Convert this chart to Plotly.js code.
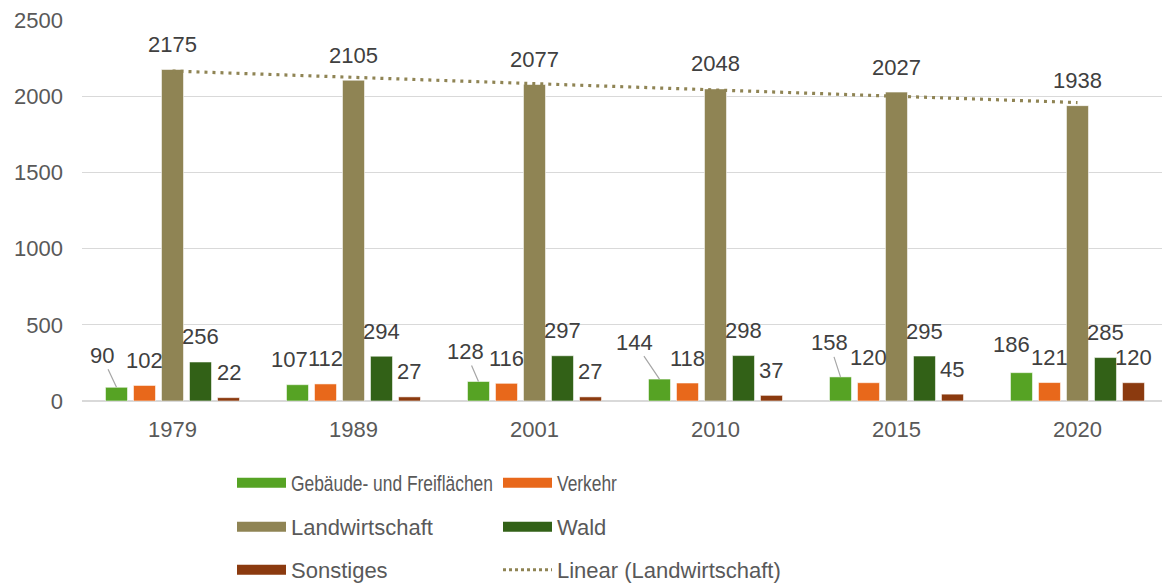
<!DOCTYPE html>
<html>
<head>
<meta charset="utf-8">
<script src="https://cdn.plot.ly/plotly-3.0.1.min.js"></script>
<style>
html,body{margin:0;padding:0;background:#fff;}
#chart{width:1162px;height:583px;}
</style>
</head>
<body>
<div id="chart"></div>
<script>
// ---- data ----
const years = ["1979", "1989", "2001", "2010", "2015", "2020"];
const gebaeude = [90, 107, 128, 144, 158, 186];
const verkehr = [102, 112, 116, 118, 120, 121];
const landwirtschaft = [2175, 2105, 2077, 2048, 2027, 1938];
const wald = [256, 294, 297, 298, 295, 285];
const sonstiges = [22, 27, 27, 37, 45, 120];
const seriesNames = ["Gebäude- und Freiflächen", "Verkehr", "Landwirtschaft", "Wald", "Sonstiges"];
const trendName = "Linear (Landwirtschaft)";

// ---- styling ----
const colors = ["#56A324", "#E8681B", "#8F8454", "#326117", "#8B3A0F"];
const seriesValues = [gebaeude, verkehr, landwirtschaft, wald, sonstiges];
const legendIds = ["legend", "legend", "legend2", "legend2", "legend3"];
const numFont = "Liberation Sans, Arial, sans-serif";
const legFont = "Liberation Sans, Arial, sans-serif";
const LEG_SIZE = 22;

const W = 1162, H = 583, ML = 82, MR = 0, MT = 20, MB = 182;
const BARGAP = 0.2265, GROUPGAP = 0.214;
const xRange = [-0.5, 5.467];
const catPx = (W - ML - MR) / (xRange[1] - xRange[0]);
const slotPx = catPx * (1 - BARGAP) / seriesValues.length;

// linear trendline (least squares over category index, like Excel)
const n = landwirtschaft.length;
const xs = landwirtschaft.map((_, i) => i + 1);
const mx = xs.reduce((a, b) => a + b, 0) / n;
const my = landwirtschaft.reduce((a, b) => a + b, 0) / n;
let sxy = 0, sxx = 0;
for (let i = 0; i < n; i++) { sxy += (xs[i] - mx) * (landwirtschaft[i] - my); sxx += (xs[i] - mx) ** 2; }
const slope = sxy / sxx, icpt = my - slope * mx;
const trendY = xs.map(x => icpt + slope * x);

const traces = [];
seriesValues.forEach((vals, i) => {
  traces.push({
    type: "bar", x: years, y: vals, name: seriesNames[i],
    marker: {color: colors[i], line: {color: "rgba(255,255,255,0.55)", width: 1}},
    showlegend: false, legendgroup: "g" + i, hoverinfo: "x+y+name"
  });
});
traces.push({
  type: "scatter", mode: "lines", x: years, y: trendY, name: trendName,
  line: {color: "#8F8454", width: 3.2, dash: "3px,5px"},
  showlegend: false, legendgroup: "trend", hoverinfo: "skip"
});
// legend entries
seriesValues.forEach((vals, i) => {
  traces.push({
    type: "scatter", mode: "lines", x: [null], y: [null], name: seriesNames[i],
    line: {color: colors[i], width: 12}, legend: legendIds[i],
    showlegend: true, legendgroup: "g" + i, hoverinfo: "skip"
  });
});
traces.push({
  type: "scatter", mode: "lines", x: [null], y: [null], name: trendName,
  line: {color: "#8F8454", width: 3, dash: "3px,3px"}, legend: "legend3",
  showlegend: true, legendgroup: "trend", hoverinfo: "skip"
});

// data label adjustments (px): [dx, dy(up), leader]
const labelAdjust = {
  "0-0": [-15, 32, true], "0-2": [-13, 30, true], "0-3": [-25, 37, true], "0-4": [-11, 34, true],
  "0-1": [-8, 25, false], "0-5": [-10, 28, false]
};
const annotations = [];
seriesValues.forEach((vals, i) => {
  const off = (i - (seriesValues.length - 1) / 2) * slotPx;
  vals.forEach((v, k) => {
    const adj = labelAdjust[i + "-" + k] || [0, 25, false];
    const a = {
      x: k, y: v, xref: "x", yref: "y", text: String(v),
      font: {family: numFont, size: 22, color: "#404040"},
      xanchor: "center", yanchor: "middle"
    };
    if (adj[2]) {
      Object.assign(a, {showarrow: true, ax: adj[0], ay: -adj[1], arrowhead: 0,
        arrowwidth: 1.2, arrowcolor: "#A6A6A6", xshift: off});
    } else {
      Object.assign(a, {showarrow: false, xshift: off + adj[0], yshift: adj[1]});
    }
    annotations.push(a);
  });
});

const legendCommon = {
  orientation: "h", xref: "container", yref: "container",
  x: 232 / W, xanchor: "left", yanchor: "middle",
  font: {family: legFont, size: LEG_SIZE, color: "#595959"},
  itemwidth: 49, entrywidth: 202, bgcolor: "rgba(0,0,0,0)",
  traceorder: "normal", tracegroupgap: 0, itemclick: false, itemdoubleclick: false
};

const layout = {
  width: W, height: H,
  margin: {l: ML, r: MR, t: MT, b: MB, pad: 0},
  paper_bgcolor: "#ffffff", plot_bgcolor: "#ffffff",
  barmode: "group", bargap: BARGAP, bargroupgap: GROUPGAP,
  xaxis: {
    type: "category", range: xRange, showgrid: false, zeroline: false, showline: false,
    ticks: "", ticklabelstandoff: 13,
    tickfont: {family: numFont, size: 22, color: "#595959"}
  },
  yaxis: {
    range: [0, 2500], dtick: 500, tick0: 0, showgrid: true, gridcolor: "#D9D9D9", gridwidth: 1.4,
    zeroline: true, zerolinecolor: "#D9D9D9", zerolinewidth: 1.4, showline: false, ticks: "",
    ticklabelstandoff: 18,
    tickfont: {family: numFont, size: 22, color: "#595959"}
  },
  legend: Object.assign({}, legendCommon, {y: 1 - 483 / H}),
  legend2: Object.assign({}, legendCommon, {y: 1 - 527 / H}),
  legend3: Object.assign({}, legendCommon, {y: 1 - 570 / H}),
  annotations: annotations,
  showlegend: true
};

const CONDENSE = 0.79;
const measureCtx = document.createElement('canvas').getContext('2d');
measureCtx.font = LEG_SIZE + 'px "Liberation Sans", Arial, sans-serif';
function condenseLegend(root) {
  // narrow legend text to mimic the condensed face of the original
  root.querySelectorAll('text').forEach(t => {
    const cls = t.getAttribute('class') || '';
    if (cls.indexOf('legendtext') < 0) return;
    const target = (measureCtx.measureText(t.textContent).width * CONDENSE).toFixed(1);
    if (t.getAttribute('textLength') === target) return;
    t.setAttribute('lengthAdjust', 'spacingAndGlyphs');
    t.setAttribute('textLength', target);
  });
  root.querySelectorAll('clipPath').forEach(cp => {
    if ((cp.id || '').indexOf('legend') >= 0) {
      const r = cp.querySelector('rect');
      if (r && r.getAttribute('width') !== '600') r.setAttribute('width', '600');
    }
  });
}

const gdEl = document.getElementById("chart");
const obs = new MutationObserver(() => condenseLegend(gdEl));
obs.observe(gdEl, {childList: true, subtree: true, characterData: true, attributes: true});
Plotly.newPlot(gdEl, traces, layout, {displayModeBar: false, staticPlot: true})
  .then(gd => condenseLegend(gd));
</script>
</body>
</html>
